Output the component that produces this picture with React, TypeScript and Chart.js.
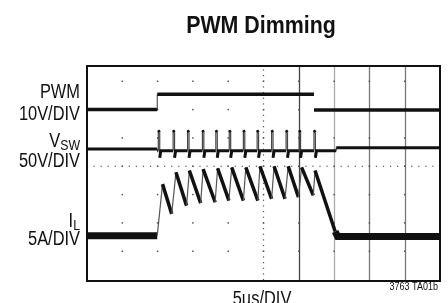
import { useEffect, useRef } from 'react';
import { Chart, registerables } from 'chart.js';

Chart.register(...registerables);

// ---- data (in scope divisions) ----
const pwmX = [0, 1.99, 1.99, 6.43, 6.43, 10];
const pwmY = [6.0, 6.0, 6.54, 6.54, 5.99, 5.99];

const vswLevels = [4.61, 4.55, 4.65]; // before, during, after
const vswEdges = [1.99, 7.06]; // start of switching, settle after
const vswSpikeX = [2.02, 2.44, 2.85, 3.27, 3.65, 4.03, 4.43, 4.82, 5.23, 5.64, 6.01, 6.43];
const vswSpikeTop = [5.27, 5.2];
const vswSpikeDip = 4.3;

const ilX = [0, 1.99, 2.14, 2.40, 2.52, 2.82, 2.90, 3.22, 3.29, 3.63, 3.70, 4.02, 4.10, 4.43, 4.50, 4.84, 4.90, 5.23, 5.30, 5.61, 5.70, 5.99, 6.08, 6.41, 6.46, 7.03, 7.10, 10];
const ilY = [1.55, 1.55, 3.37, 2.32, 3.79, 2.61, 3.85, 2.70, 3.90, 2.73, 3.93, 2.79, 3.96, 2.79, 3.96, 2.79, 4.00, 2.85, 4.00, 2.85, 4.00, 2.91, 3.96, 2.97, 3.85, 1.70, 1.52, 1.52];

const xTicks = [1, 2, 3, 4, 5, 6, 7, 8, 9];
const yTicks = [1, 2, 3, 4, 5, 6, 7];
const cursorX = [6, 7, 8, 9];
const cursorColors = ['#444', '#aaa', '#777', '#777'];

const FONT = '"Liberation Sans", Arial, sans-serif';
const NARROW = 0.82;

function buildPwm() {
  return pwmX.map((x, i) => ({ x, y: pwmY[i] }));
}

function buildVsw() {
  const pts: { x: number; y: number }[] = [];
  pts.push({ x: 0, y: vswLevels[0] });
  pts.push({ x: vswEdges[0], y: vswLevels[0] });
  pts.push({ x: vswEdges[0], y: vswLevels[1] });
  vswSpikeX.forEach((t) => {
    pts.push({ x: t, y: vswLevels[1] });
    pts.push({ x: t, y: vswSpikeTop[0] });
    pts.push({ x: t + 0.04, y: vswSpikeTop[1] });
    pts.push({ x: t + 0.04, y: vswSpikeDip });
    pts.push({ x: t + 0.07, y: vswLevels[1] });
  });
  pts.push({ x: vswEdges[1], y: vswLevels[1] });
  pts.push({ x: vswEdges[1], y: vswLevels[2] });
  pts.push({ x: 10, y: vswLevels[2] });
  return pts;
}

function buildIl() {
  return ilX.map((x, i) => ({ x, y: ilY[i] }));
}

function narrowText(ctx: CanvasRenderingContext2D, text: string, x: number, y: number, font: string, align: CanvasTextAlign, sx = NARROW) {
  ctx.save();
  ctx.translate(x, y);
  ctx.scale(sx, 1);
  ctx.font = font;
  ctx.textAlign = align;
  ctx.textBaseline = 'alphabetic';
  ctx.fillText(text, 0, 0);
  const w = ctx.measureText(text).width * sx;
  ctx.restore();
  return w;
}

const gridPlugin = {
  id: 'scopeGrid',
  beforeDatasetsDraw(chart: any) {
    const { ctx, chartArea: a, scales } = chart;
    const xs = scales.x;
    const ys = scales.y;
    ctx.save();
    cursorX.forEach((v, i) => {
      const px = Math.round(xs.getPixelForValue(v)) + 0.5;
      ctx.strokeStyle = cursorColors[i];
      ctx.lineWidth = 1.3;
      ctx.beginPath();
      ctx.moveTo(px, a.top);
      ctx.lineTo(px, a.bottom);
      ctx.stroke();
    });
    ctx.fillStyle = '#555';
    xTicks.forEach((xv) => {
      yTicks.forEach((yv) => {
        const px = xs.getPixelForValue(xv);
        const py = ys.getPixelForValue(yv);
        ctx.fillRect(px - 0.75, py - 0.75, 1.5, 1.5);
      });
    });
    for (let v = 0; v <= 10.001; v += 0.2) {
      const px = xs.getPixelForValue(v);
      const py = ys.getPixelForValue(4);
      ctx.fillRect(px - 0.6, py - 0.6, 1.2, 1.2);
    }
    for (let v = 0; v <= 7.6; v += 0.2) {
      const px = xs.getPixelForValue(5);
      const py = ys.getPixelForValue(v);
      if (py >= a.top && py <= a.bottom) ctx.fillRect(px - 0.6, py - 0.6, 1.2, 1.2);
    }
    ctx.restore();
  },
  afterDatasetsDraw(chart: any) {
    const { ctx, chartArea: a } = chart;
    ctx.save();
    ctx.strokeStyle = '#111';
    ctx.lineWidth = 2;
    ctx.strokeRect(a.left, a.top, a.right - a.left, a.bottom - a.top);
    ctx.restore();
  },
  afterDraw(chart: any) {
    const { ctx } = chart;
    ctx.save();
    ctx.fillStyle = '#111';
    narrowText(ctx, 'PWM Dimming', 261, 33, `bold 23px ${FONT}`, 'center', 0.93);

    narrowText(ctx, 'PWM', 80, 98, `20px ${FONT}`, 'right');
    narrowText(ctx, '10V/DIV', 80, 120, `20px ${FONT}`, 'right');
    narrowText(ctx, '50V/DIV', 80, 167, `20px ${FONT}`, 'right');
    narrowText(ctx, '5A/DIV', 80, 245, `20px ${FONT}`, 'right');

    const swW = narrowText(ctx, 'SW', 80, 150, `15px ${FONT}`, 'right');
    narrowText(ctx, 'V', 80 - swW, 147, `20px ${FONT}`, 'right');

    const lW = narrowText(ctx, 'L', 80, 230, `15px ${FONT}`, 'right');
    narrowText(ctx, 'I', 80 - lW, 227, `20px ${FONT}`, 'right');

    narrowText(ctx, '5µs/DIV', 262, 305, `20px ${FONT}`, 'center');
    narrowText(ctx, '3763 TA01b', 438, 290, `11px ${FONT}`, 'right');
    ctx.restore();
  },
};

export default function App() {
  const ref = useRef<HTMLCanvasElement>(null);
  useEffect(() => {
    const vertical = (c: any) => Math.abs(c.p0.parsed.x - c.p1.parsed.x) < 1e-6;
    const chart = new Chart(ref.current as HTMLCanvasElement, {
      type: 'scatter',
      data: {
        datasets: [
          {
            label: 'PWM',
            data: buildPwm(),
            showLine: true,
            pointRadius: 0,
            borderColor: '#111',
            borderWidth: 3.5,
            segment: {
              borderWidth: (c: any) => (vertical(c) ? 1 : 3.5),
              borderColor: (c: any) => (vertical(c) ? (c.p0.parsed.x > 5 ? 'rgba(0,0,0,0)' : '#333') : '#111'),
            },
          } as any,
          {
            label: 'VSW',
            data: buildVsw(),
            showLine: true,
            pointRadius: 0,
            borderColor: '#111',
            borderWidth: 3,
            segment: {
              borderWidth: (c: any) => (vertical(c) ? 1.2 : c.p0.parsed.y > 5 ? 2.5 : 3),
              borderColor: (c: any) => (vertical(c) ? '#444' : '#111'),
            },
          } as any,
          {
            label: 'IL',
            data: buildIl(),
            showLine: true,
            pointRadius: 0,
            borderColor: '#111',
            borderWidth: 4,
            segment: {
              borderWidth: (c: any) => {
                const y0 = c.p0.parsed.y;
                const y1 = c.p1.parsed.y;
                if (y0 < 1.8 && y1 < 1.8) return 7;
                if (y1 > y0) return 1.2;
                return 3.5;
              },
              borderColor: (c: any) => (c.p1.parsed.y > c.p0.parsed.y + 0.3 ? '#555' : '#111'),
            },
          } as any,
        ],
      },
      options: {
        responsive: false,
        animation: false,
        devicePixelRatio: 1,
        layout: { padding: { left: 87, right: 8, top: 66, bottom: 22 } },
        plugins: { legend: { display: false }, tooltip: { enabled: false }, title: { display: false } },
        scales: {
          x: { type: 'linear', min: 0, max: 10, display: false },
          y: { type: 'linear', min: -0.05, max: 7.54, display: false },
        },
      },
      plugins: [gridPlugin],
    });
    return () => chart.destroy();
  }, []);
  return (
    <div style={{ position: 'fixed', left: 0, top: 0, width: 448, height: 303, background: '#fff' }}>
      <canvas ref={ref} width={448} height={303} style={{ display: 'block', width: 448, height: 303 }} />
    </div>
  );
}
